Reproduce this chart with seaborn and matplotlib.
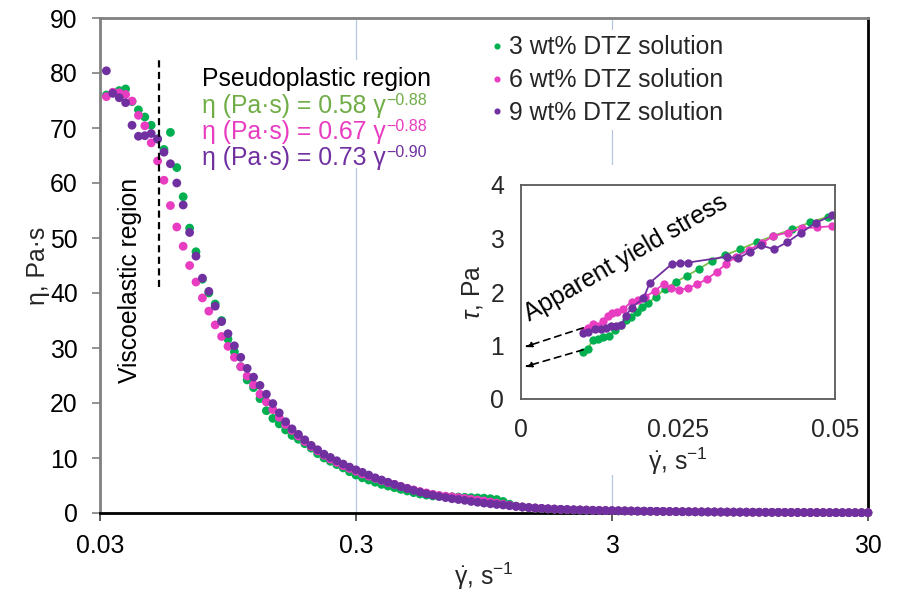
import numpy as np
import pandas as pd
import matplotlib
matplotlib.use("Agg")
import matplotlib.pyplot as plt
import seaborn as sns
from matplotlib.patches import Rectangle

# shear rate grid of the flow curves, s^-1
shear_rate = [
    0.03177, 0.03366, 0.03566, 0.03777, 0.04002, 0.04239, 0.04489, 0.04755, 0.05037, 0.05334,
    0.05652, 0.05985, 0.06339, 0.06717, 0.07113, 0.07536, 0.07983, 0.08454, 0.08955, 0.09486,
    0.1005, 0.1064, 0.1127, 0.1194, 0.1265, 0.1340, 0.1420, 0.1504, 0.1593, 0.1687,
    0.1787, 0.1893, 0.2005, 0.2124, 0.2250, 0.2383, 0.2524, 0.2674, 0.2832, 0.3,
    0.3177, 0.3366, 0.3566, 0.3777, 0.4002, 0.4239, 0.4489, 0.4755, 0.5037, 0.5334,
    0.5652, 0.5985, 0.6339, 0.6717, 0.7113, 0.7536, 0.7983, 0.8454, 0.8955, 0.9486,
    1.005, 1.064, 1.127, 1.194, 1.265, 1.340, 1.420, 1.504, 1.593, 1.687,
    1.787, 1.893, 2.005, 2.124, 2.250, 2.383, 2.524, 2.674, 2.832, 3.0,
    3.177, 3.366, 3.566, 3.777, 4.002, 4.239, 4.489, 4.755, 5.037, 5.334,
    5.652, 5.985, 6.339, 6.717, 7.113, 7.536, 7.983, 8.454, 8.955, 9.486,
    10.05, 10.64, 11.27, 11.94, 12.65, 13.40, 14.20, 15.04, 15.93, 16.87,
    17.87, 18.93, 20.05, 21.24, 22.50, 23.83, 25.24, 26.74, 28.32, 30.0,
]

# viscosity, Pa.s
eta_3wt = [
    76.0, 76.4, 76.8, 77.1, 74.8, 73.3, 72.0, 70.5, 68.0, 66.1,
    69.2, 62.8, 57.5, 51.8, 47.5, 42.5, 40.0, 38.0, 35.0, 31.6,
    29.3, 26.6, 24.2, 22.8, 20.8, 18.6, 17.2, 16.2, 15.1, 14.1,
    13.4, 12.6, 11.8, 10.8, 10.0, 9.4, 8.8, 8.2, 7.5, 6.9,
    6.4, 6.0, 5.6, 5.2, 4.9, 4.6, 4.3, 4.0, 3.7, 3.45,
    3.25, 3.1, 3.05, 3.0, 2.95, 2.9, 2.85, 2.8, 2.75, 2.7,
    2.6, 2.45, 2.1, 1.6, 1.25, 1.08, 0.95, 0.87, 0.8, 0.74,
    0.69, 0.64, 0.6, 0.56, 0.53, 0.5, 0.47, 0.45, 0.43, 0.41,
    0.39, 0.37, 0.35, 0.33, 0.32, 0.30, 0.29, 0.27, 0.26, 0.25,
    0.23, 0.22, 0.21, 0.20, 0.19, 0.18, 0.17, 0.16, 0.155, 0.15,
    0.14, 0.135, 0.13, 0.12, 0.115, 0.11, 0.105, 0.10, 0.095, 0.09,
    0.085, 0.08, 0.077, 0.073, 0.07, 0.066, 0.063, 0.06, 0.057, 0.054,
]
eta_6wt = [
    75.7, 76.5, 76.4, 76.1, 74.9, 72.3, 70.4, 67.3, 64.0, 60.5,
    55.9, 52.0, 48.5, 45.0, 42.0, 39.1, 36.7, 34.2, 32.1, 30.3,
    28.3, 26.6, 24.9, 23.3, 21.6, 20.2, 18.8, 17.4, 16.1, 15.0,
    14.0, 13.0, 12.1, 11.3, 10.5, 9.8, 9.2, 8.6, 8.1, 7.6,
    7.1, 6.7, 6.3, 5.9, 5.5, 5.2, 4.85, 4.5, 4.2, 3.9,
    3.65, 3.4, 3.2, 3.05, 2.95, 2.8, 2.65, 2.5, 2.35, 2.2,
    2.0, 1.8, 1.6, 1.4, 1.22, 1.08, 0.98, 0.9, 0.83, 0.77,
    0.71, 0.66, 0.62, 0.58, 0.55, 0.52, 0.49, 0.46, 0.44, 0.42,
    0.40, 0.38, 0.36, 0.34, 0.33, 0.31, 0.30, 0.28, 0.27, 0.26,
    0.24, 0.23, 0.22, 0.21, 0.20, 0.19, 0.18, 0.17, 0.16, 0.155,
    0.145, 0.14, 0.13, 0.125, 0.12, 0.115, 0.11, 0.10, 0.098, 0.093,
    0.088, 0.084, 0.08, 0.076, 0.072, 0.068, 0.065, 0.062, 0.059, 0.056,
]
eta_9wt = [
    80.4, 76.3, 75.5, 74.6, 70.5, 68.5, 68.6, 69.0, 68.0, 65.6,
    63.5, 60.0, 56.0, 51.0, 46.7, 42.7, 40.3, 37.6, 34.8, 32.6,
    30.4, 28.3, 26.3, 24.7, 23.2, 21.6, 19.9, 18.2, 16.6, 15.3,
    14.3, 13.3, 12.3, 11.5, 10.7, 10.1, 9.5, 8.9, 8.35, 7.85,
    7.4, 6.9, 6.4, 6.0, 5.6, 5.2, 4.8, 4.45, 4.1, 3.8,
    3.5, 3.25, 3.0, 2.8, 2.6, 2.45, 2.3, 2.1, 1.95, 1.8,
    1.68, 1.55, 1.45, 1.32, 1.2, 1.1, 1.0, 0.92, 0.84, 0.77,
    0.72, 0.67, 0.63, 0.59, 0.56, 0.53, 0.5, 0.47, 0.45, 0.43,
    0.41, 0.39, 0.37, 0.35, 0.33, 0.32, 0.30, 0.29, 0.27, 0.26,
    0.25, 0.23, 0.22, 0.21, 0.20, 0.19, 0.18, 0.17, 0.165, 0.155,
    0.15, 0.14, 0.135, 0.13, 0.12, 0.115, 0.11, 0.105, 0.10, 0.095,
    0.09, 0.085, 0.08, 0.077, 0.073, 0.07, 0.066, 0.063, 0.06, 0.057,
]

# inset: shear stress at low shear rate
rate_in_3wt = [0.0099, 0.0106, 0.0114, 0.0123, 0.0131, 0.0140, 0.0150, 0.0159, 0.0167, 0.0175,
               0.0184, 0.0193, 0.0203, 0.0215, 0.0229, 0.0247, 0.0264, 0.0283, 0.0304, 0.0325,
               0.0349, 0.0375, 0.0402, 0.0431, 0.0460, 0.0489]
tau_in_3wt = [0.885, 0.93, 1.10, 1.13, 1.15, 1.17, 1.29, 1.38, 1.47, 1.54,
              1.63, 1.72, 1.80, 1.91, 2.06, 2.19, 2.30, 2.43, 2.58, 2.69,
              2.80, 2.93, 3.05, 3.17, 3.30, 3.41]
rate_in_6wt = [0.0100, 0.0107, 0.0115, 0.0123, 0.0131, 0.0139, 0.0145, 0.0153, 0.0163, 0.0176,
               0.0187, 0.0198, 0.0213, 0.0227, 0.0239, 0.0252, 0.0266, 0.0281, 0.0296, 0.0312,
               0.0326, 0.0342, 0.0363, 0.0383, 0.0402, 0.0425, 0.0447, 0.0471, 0.0496]
tau_in_6wt = [1.27, 1.33, 1.40, 1.37, 1.45, 1.55, 1.60, 1.63, 1.68, 1.82,
              1.85, 1.91, 2.02, 2.15, 2.08, 2.04, 2.07, 2.15, 2.24, 2.38,
              2.52, 2.66, 2.79, 2.91, 3.05, 3.11, 3.19, 3.21, 3.23]
rate_in_9wt = [0.0099, 0.0106, 0.0118, 0.0127, 0.0136, 0.0144, 0.0152, 0.0160, 0.0167, 0.0176,
               0.0195, 0.0205, 0.0240, 0.0253, 0.0266, 0.0328, 0.0346, 0.0364, 0.0382, 0.0403,
               0.0424, 0.0446, 0.0469, 0.0495]
tau_in_9wt = [1.23, 1.26, 1.30, 1.30, 1.33, 1.36, 1.36, 1.38, 1.55, 1.71,
              1.88, 2.17, 2.52, 2.55, 2.55, 2.66, 2.63, 2.75, 2.87, 2.80,
              2.93, 3.11, 3.29, 3.43]

samples = ["3 wt% DTZ solution", "6 wt% DTZ solution", "9 wt% DTZ solution"]
colors = ["#00B050", "#E83CC1", "#7030A0"]
eq_colors = ["#70AD47", "#E83CC1", "#7030A0"]
eq_coef = ["0.58", "0.67", "0.73"]
eq_exp = ["0.88", "0.88", "0.90"]

sns.set_theme(style="white")
plt.rcParams["font.family"] = ["Liberation Sans", "DejaVu Sans"]
plt.rcParams["mathtext.fontset"] = "custom"
plt.rcParams["mathtext.rm"] = "Liberation Sans"
plt.rcParams["mathtext.it"] = "Liberation Sans:italic"
plt.rcParams["mathtext.default"] = "regular"
fs = 17.8

fig = plt.figure(figsize=(8.99, 5.95), dpi=100)
ax = fig.add_axes([100 / 899, 1 - 513 / 595, 768 / 899, 495 / 595])

df = pd.DataFrame({
    "rate": shear_rate * 3,
    "eta": eta_3wt + eta_6wt + eta_9wt,
    "sample": np.repeat(samples, len(shear_rate)),
})
sns.scatterplot(data=df, x="rate", y="eta", hue="sample", palette=colors,
                s=40, linewidth=0, ax=ax, zorder=3, clip_on=False)
ax.set_xscale("log")
ax.set_xlim(0.03, 30)
ax.set_ylim(0, 90)
ax.set_xticks([0.03, 0.3, 3, 30])
ax.set_xticklabels(["0.03", "0.3", "3", "30"])
ax.minorticks_off()
ax.set_yticks(range(0, 91, 10))
ax.tick_params(axis="both", labelsize=fs, colors="black")
ax.tick_params(axis="x", bottom=True, length=6, width=1.2, color="#404040", pad=9)
ax.tick_params(axis="y", left=True, length=6, width=1.2, color="#808080", pad=10)
ax.grid(axis="x", color="#B4C7E7", lw=0.9)
ax.grid(axis="y", visible=False)
ax.set_axisbelow(True)
for side in ["left", "top"]:
    ax.spines[side].set_color("#808080")
    ax.spines[side].set_linewidth(2)
for side in ["bottom", "right"]:
    ax.spines[side].set_color("black")
    ax.spines[side].set_linewidth(2)
ax.set_xlabel(r"$\dot{\gamma}$, s$^{-1}$", fontsize=fs, labelpad=2)
ax.set_ylabel("η, Pa·s", fontsize=fs, labelpad=0)

handles, labels = ax.get_legend_handles_labels()
ax.legend(handles, labels, loc="upper left", bbox_to_anchor=(472 / 899, 1 - 18 / 595),
          bbox_transform=fig.transFigure, frameon=True, facecolor="white", edgecolor="none",
          framealpha=1, fontsize=fs, markerscale=0.7, handletextpad=0.2, handlelength=0.6,
          labelspacing=0.36, borderpad=0.2)

# white panels (text block, inset area) drawn over the grid but under the marks
for x0, y0, w, h in [(198, 60, 240, 108), (455, 165, 395, 310)]:
    ax.add_patch(Rectangle((x0 / 899, 1 - (y0 + h) / 595), w / 899, h / 595,
                           transform=fig.transFigure, facecolor="white", edgecolor="none",
                           zorder=1, clip_on=False))

# region marker and labels
ax.plot([0.0512, 0.0512], [41.1, 82.7], color="black", lw=1.6, ls=(0, (3.2, 2)), zorder=4)
ax.text(0.0393, 42.2, "Viscoelastic region", rotation=90, ha="center", va="center",
        fontsize=fs, color="black")
ax.text(0.0749, 77.6, "Pseudoplastic region", ha="left", va="baseline", fontsize=fs,
        color="black", zorder=5)
for yb, c, k, n in zip([72.7, 68.0, 63.3], eq_colors, eq_coef, eq_exp):
    t = ax.text(0.0749, yb, "η (Pa·s) = " + k + " γ", ha="left", va="baseline",
                fontsize=fs, color=c, zorder=5)
    ax.annotate("\u2212" + n, xy=(1, 0), xycoords=t, xytext=(0.5, 9.5),
                textcoords="offset points", ha="left", va="baseline", fontsize=11.5,
                color=c, zorder=5)

ins = fig.add_axes([521 / 899, 1 - 399 / 595, 314 / 899, 214 / 595])
ins.set_zorder(3)
dfi = pd.DataFrame({
    "rate": rate_in_3wt + rate_in_6wt + rate_in_9wt,
    "tau": tau_in_3wt + tau_in_6wt + tau_in_9wt,
    "sample": [samples[0]] * len(rate_in_3wt) + [samples[1]] * len(rate_in_6wt)
              + [samples[2]] * len(rate_in_9wt),
})
sns.lineplot(data=dfi, x="rate", y="tau", hue="sample", palette=colors, marker="o",
             markersize=6, markeredgewidth=0, lw=1.3, estimator=None, sort=False,
             legend=False, ax=ins)
for line, c in zip(ins.lines, colors):
    line.set_markerfacecolor(c)
    line.set_markeredgecolor(c)
ins.lines[0].set_color("#7CBF4A")
ins.set_xlim(0, 0.05)
ins.set_ylim(0, 4)
ins.set_xticks([0, 0.025, 0.05])
ins.set_xticklabels(["0", "0.025", "0.05"])
ins.set_yticks(range(0, 5))
ins.tick_params(axis="x", length=0, labelsize=fs, pad=14)
ins.tick_params(axis="y", length=0, labelsize=fs, pad=12)
for s in ins.spines.values():
    s.set_color("#595959")
    s.set_linewidth(1.3)
ins.set_xlabel(r"$\dot{\gamma}$, s$^{-1}$", fontsize=fs, labelpad=2)
ins.set_ylabel(r"$\mathit{\tau}$, Pa", fontsize=fs, labelpad=4)
for y0, y1 in [(1.33, 0.97), (0.92, 0.60)]:
    ins.annotate("", xy=(0.0005, y1), xytext=(0.0099, y0),
                 arrowprops=dict(arrowstyle="-|>,head_length=0.35,head_width=0.12",
                                 color="black", lw=1.2, ls=(0, (4, 3)),
                                 shrinkA=0, shrinkB=0))
ins.text(0.0013, 1.45, "Apparent yield stress", rotation=30, rotation_mode="anchor",
         ha="left", va="baseline", fontsize=fs, color="black")

fig.savefig("out.png", dpi=100)
